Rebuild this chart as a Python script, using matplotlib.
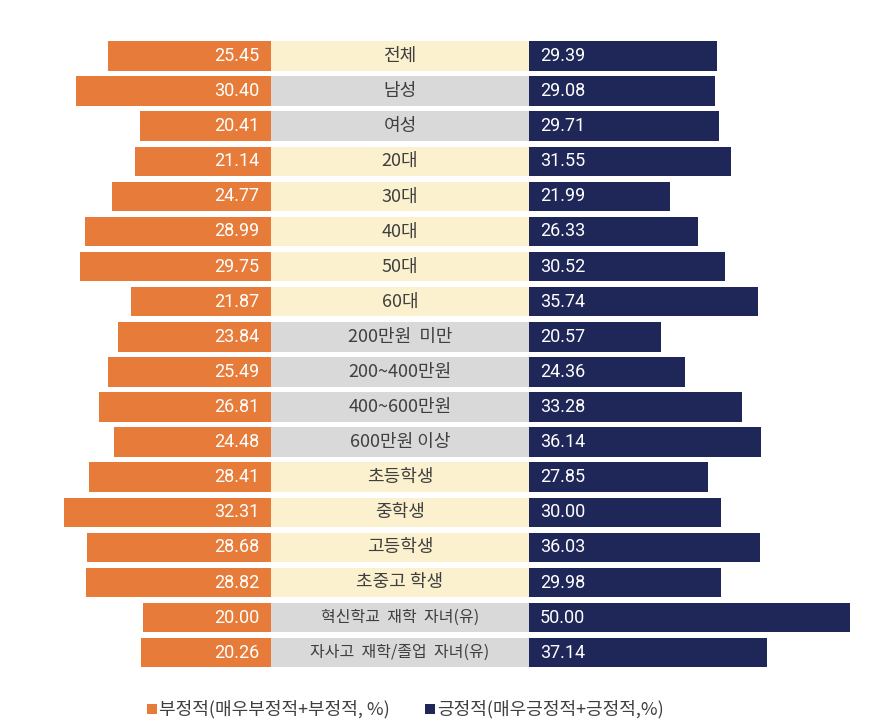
import matplotlib.pyplot as plt
from matplotlib.patches import Rectangle

plt.rcParams['font.family'] = ['Noto Sans CJK KR', 'DejaVu Sans']

# --- data ---
groups = ["전체", "남성", "여성", "20대", "30대", "40대", "50대", "60대",
          "200만원  미만", "200~400만원", "400~600만원", "600만원 이상",
          "초등학생", "중학생", "고등학생", "초중고 학생",
          "혁신학교  재학  자녀(유)", "자사고  재학/졸업  자녀(유)"]
negative = [25.45, 30.40, 20.41, 21.14, 24.77, 28.99, 29.75, 21.87,
            23.84, 25.49, 26.81, 24.48, 28.41, 32.31, 28.68, 28.82,
            20.00, 20.26]
positive = [29.39, 29.08, 29.71, 31.55, 21.99, 26.33, 30.52, 35.74,
            20.57, 24.36, 33.28, 36.14, 27.85, 30.00, 36.03, 29.98,
            50.00, 37.14]
# label box shading: True = cream, False = grey
cream_rows = [True, False, False, True, True, True, True, True,
              False, False, False, False, True, True, True, True,
              False, False]

ORANGE = "#E77C3A"
NAVY = "#1F2658"
CREAM = "#FBF1CF"
GREY = "#D9D9D9"
TEXT = "#3F3F3F"

PX = 6.41          # pixels per percentage point
MID = 258 / PX     # width of the centre label band in data units
H = 0.84           # bar height

fig = plt.figure(figsize=(8.82, 7.28), dpi=100)
ax = fig.add_axes([0, 0, 1, 1])
xmin = -271 / PX
ax.set_xlim(xmin, xmin + 882 / PX)
ax.set_ylim((728 - 56) / 35.1, -56 / 35.1)
ax.axis('off')

ys = range(len(groups))
ax.barh(ys, [-v for v in negative], height=H, left=0, color=ORANGE)
ax.barh(ys, positive, height=H, left=MID, color=NAVY)

for i, (g, n, p, c) in enumerate(zip(groups, negative, positive, cream_rows)):
    ax.add_patch(Rectangle((0, i - H / 2), MID, H, color=CREAM if c else GREY, lw=0))
    fs = 11.5 if i >= 16 else 13
    ax.text(MID / 2, i, g, ha='center', va='center', fontsize=fs, color=TEXT)
    ax.text(-12 / PX, i, f"{n:.2f}", ha='right', va='center', fontsize=13,
            color='white', family=['Roboto', 'DejaVu Sans'])
    ax.text(MID + 11 / PX, i, f"{p:.2f}", ha='left', va='center', fontsize=13,
            color='white', family=['Roboto', 'DejaVu Sans'])

# legend
ly = (709 - 56) / 35.1
for x0, col, lab in [(147, ORANGE, "부정적(매우부정적+부정적, %)"),
                     (425, NAVY, "긍정적(매우긍정적+긍정적,%)")]:
    ax.add_patch(Rectangle((xmin + x0 / PX, ly - 0.15), 10 / PX, 0.3, color=col, lw=0))
    ax.text(xmin + (x0 + 12) / PX, ly, lab, ha='left', va='center',
            fontsize=13, color=TEXT)

fig.savefig("out.png", dpi=100)
